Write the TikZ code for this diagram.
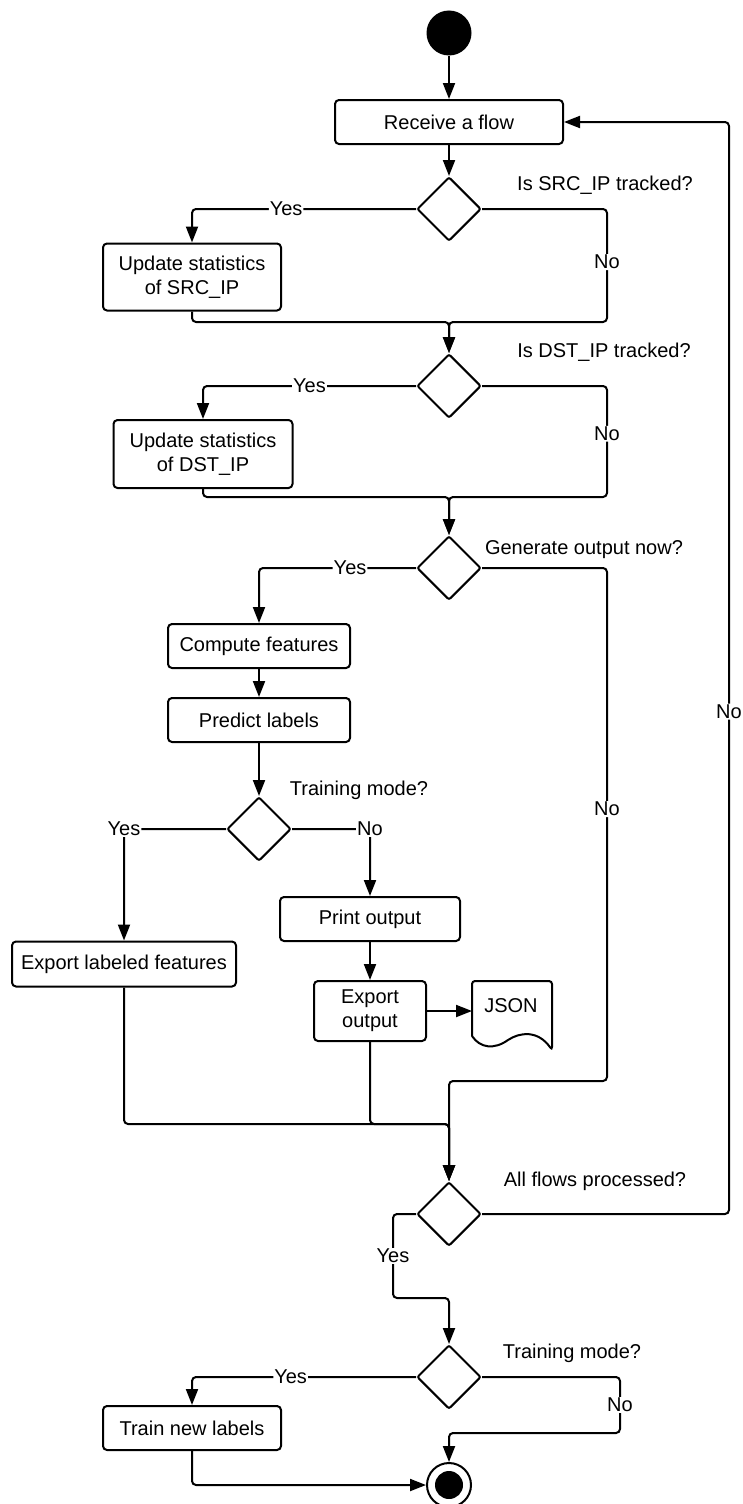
\documentclass[tikz,border=0pt]{standalone}
\usepackage{fontspec}
\setmainfont{Liberation Sans}
\usepackage{tikz}
\usetikzlibrary{
  shapes.geometric,
  arrows.meta,
  positioning, calc
}
\usepackage{xcolor}
\definecolor{InkBlack}{RGB}{0,0,0}
\tikzset{
  actbox/.style={rectangle,rounded corners=4pt,draw=InkBlack,line width=2pt,
    align=center,inner sep=0pt,minimum height=44pt},
  decision/.style={diamond,draw=InkBlack,line width=2pt,rounded corners=2pt,
    minimum width=64pt,minimum height=64pt,inner sep=0pt},
  startdot/.style={circle,fill=InkBlack,minimum size=45pt,inner sep=0pt},
  enddot/.style={circle,draw=InkBlack,line width=2pt,minimum size=44pt,inner sep=0pt},
  flowarrow/.style={-{Triangle[length=16pt,width=12pt]},line width=2pt,
    rounded corners=4pt,color=InkBlack},
  flowline/.style={line width=2pt,color=InkBlack},
  branchlbl/.style={fill=white,inner sep=1pt},
  asklbl/.style={inner sep=0pt}
}

\begin{document}
\begin{tikzpicture}[x=1pt,y=-1pt,every node/.style={font=\fontsize{20}{24}\selectfont}]
  \useasboundingbox (0,0) rectangle (743,1504);
  % nodes
  \node[startdot] (start) at (449,33) {};
  \node[actbox,minimum width=228pt] (recv) at (449,122) {Receive a flow};
  \node[decision] (d1) at (449,209) {};
  \node[asklbl] (q1) at (605,185) {Is SRC\_IP tracked?};
  \node[actbox,minimum width=178pt,minimum height=67pt] (src) at (192,277) {Update statistics\\of SRC\_IP};
  \coordinate (m1) at (449,322);
  \node[decision] (d2) at (449,386) {};
  \node[asklbl] (q2) at (604,352) {Is DST\_IP tracked?};
  \node[actbox,minimum width=179pt,minimum height=68pt] (dst) at (203,454) {Update statistics\\of DST\_IP};
  \coordinate (m2) at (449,497);
  \node[decision] (d3) at (449,568) {};
  \node[asklbl] (q3) at (584,550) {Generate output now?};
  \node[actbox,minimum width=182pt] (comp) at (259,646) {Compute features};
  \node[actbox,minimum width=182pt] (pred) at (259,720) {Predict labels};
  \node[decision] (d4) at (259,829) {};
  \node[asklbl] (q4) at (359,790) {Training mode?};
  \node[actbox,minimum width=224pt,minimum height=45pt] (explab) at (124,964) {Export labeled features};
  \node[actbox,minimum width=180pt] (print) at (370,919) {Print output};
  \node[actbox,minimum width=112pt,minimum height=60pt] (expout) at (370,1011) {Export\\output};
  \node (json) at (511,1006) {JSON};
  \coordinate (jsonin) at (472,1011);
  \coordinate (m4) at (449,1124);
  \node[decision] (d5) at (449,1214) {};
  \node[asklbl] (q5) at (595,1181) {All flows processed?};
  \node[decision] (d6) at (449,1377) {};
  \node[asklbl] (q6) at (572,1353) {Training mode?};
  \node[actbox,minimum width=178pt] (train) at (192,1428) {Train new labels};
  \node[enddot] (end) at (449,1485) {};
  \fill[InkBlack] (end) circle (14pt);
  % JSON document
  \draw[flowline,rounded corners=3pt] (472,1036) -- (472,981) -- (552,981) -- (552,1050)
    [sharp corners] .. controls (538,1030) and (520,1032) .. (508,1040)
    .. controls (494,1050) and (480,1048) .. (472,1036);
  % connectors
  \draw[flowarrow] (start) -- (recv);
  \draw[flowarrow] (recv) -- (d1);
  \draw[flowarrow] (d1.west) -| node[branchlbl,pos=0.29]{Yes} (src.north);
  \draw[flowarrow] (d1.east) -- ++(125,0) -- node[branchlbl,pos=0.47]{No} ++(0,113) -- (m1) -- (d2.north);
  \draw[flowarrow] (src.south) |- (m1) -- (d2.north);
  \draw[flowarrow] (d2.west) -| node[branchlbl,pos=0.25]{Yes} (dst.north);
  \draw[flowarrow] (d2.east) -- ++(125,0) -- node[branchlbl,pos=0.43]{No} ++(0,111) -- (m2) -- (d3.north);
  \draw[flowarrow] (dst.south) |- (m2) -- (d3.north);
  \draw[flowarrow] (d3.west) -| node[branchlbl,pos=0.21]{Yes} (comp.north);
  \draw[flowarrow] (comp) -- (pred);
  \draw[flowarrow] (pred) -- (d4);
  \draw[flowarrow] (d3.east) -| node[branchlbl,pos=0.735]{No} ++(125,513) -| (d5.north);
  \draw[flowarrow] (d4.west) -| node[branchlbl,pos=0.5]{Yes} (explab.north);
  \draw[flowarrow] (d4.east) -| node[branchlbl,pos=0.5]{No} (print.north);
  \draw[flowarrow] (print) -- (expout);
  \draw[flowarrow] (expout.east) -- (jsonin);
  \draw[flowarrow] (explab.south) |- (m4) -- (d5.north);
  \draw[flowarrow] (expout.south) |- (m4) -- (d5.north);
  \draw[flowarrow] (d5.east) -- ++(247,0) |- node[branchlbl,pos=0.23]{No} (recv.east);
  \draw[flowarrow] (d5.west) -- ++(-23,0) -- node[branchlbl]{Yes} ++(0,84) -| (d6.north);
  \draw[flowarrow] (d6.west) -| node[branchlbl,pos=0.28]{Yes} (train.north);
  \draw[flowarrow] (d6.east) -- ++(138,0) -- node[branchlbl]{No} ++(0,56) -| (end.north);
  \draw[flowarrow] (train.south) |- (end.west);
\end{tikzpicture}
\end{document}
